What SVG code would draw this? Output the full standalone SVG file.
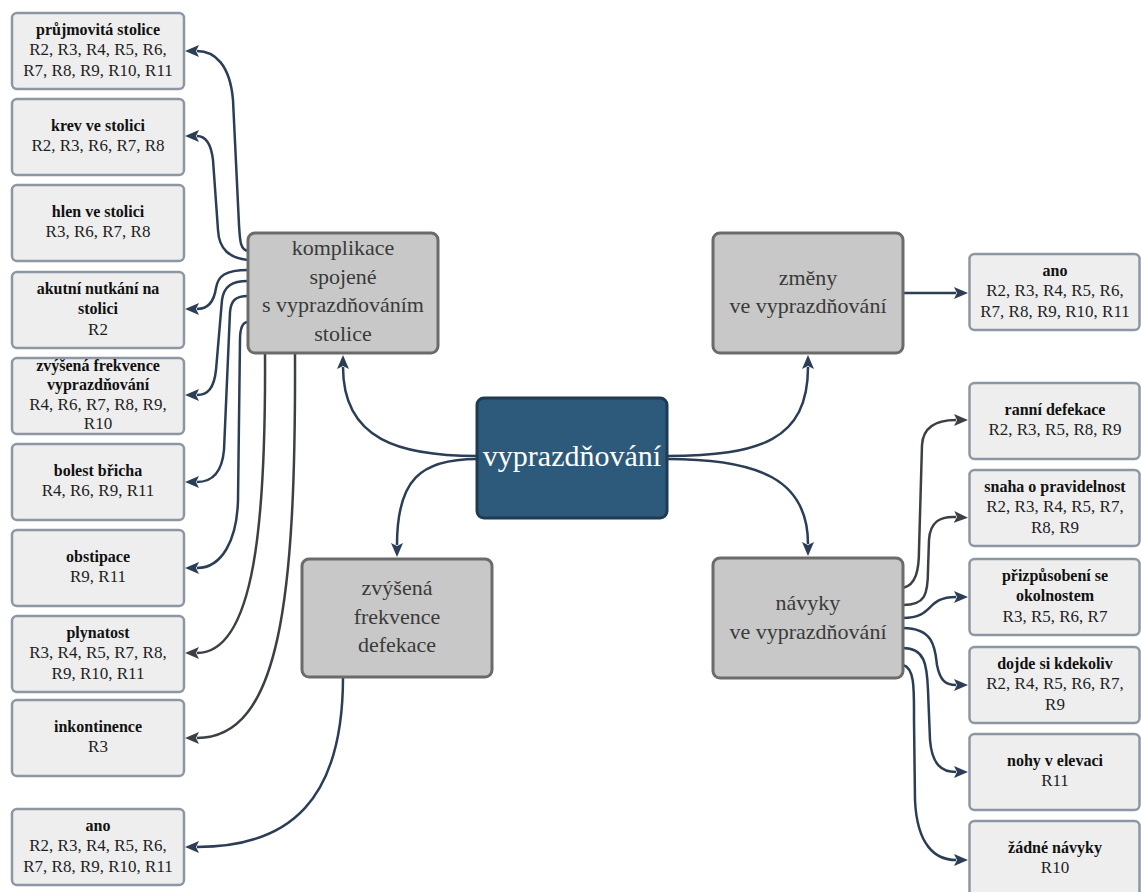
<svg xmlns="http://www.w3.org/2000/svg" width="1141" height="892" viewBox="0 0 1141 892">
  <style>
    text { font-family: 'Liberation Serif', 'Times New Roman', Times, 'Noto Serif', serif; }
    .leaf rect { fill: #eeeeee; stroke: #8d97a3; stroke-width: 2.5; }
    .hub rect { fill: #c8c8c8; stroke: #6b6b6b; stroke-width: 3; }
    .root rect { fill: #2d5a7b; stroke: #1f3a52; stroke-width: 3; }
    .hub text { font-size: 22px; fill: #3a3a3a; text-anchor: middle; }
    .root text { font-size: 30px; fill: #ffffff; text-anchor: middle; }
    .leaf text { font-size: 17px; fill: #1e1e1e; text-anchor: middle; }
    .leaf .b { font-weight: bold; font-size: 16px; fill: #111111; }
    .edge { fill: none; stroke: #2c3e55; stroke-width: 2.5; marker-end: url(#ah); }
    .edge.g { stroke: #3c4046; marker-end: url(#ahg); }
  </style>
  <defs>
    <marker id="ah" viewBox="0 0 14 14" markerWidth="14" markerHeight="14" refX="2" refY="7" orient="auto" markerUnits="userSpaceOnUse">
      <path d="M0,1 L14,7 L0,13 L3,7 Z" fill="#2c3e55"/>
    </marker>
    <marker id="ahg" viewBox="0 0 14 14" markerWidth="14" markerHeight="14" refX="2" refY="7" orient="auto" markerUnits="userSpaceOnUse">
      <path d="M0,1 L14,7 L0,13 L3,7 Z" fill="#3c4046"/>
    </marker>
  </defs>

  <rect width="1141" height="892" fill="#ffffff"/>

  <!-- connectors -->
  <g id="connectors">
    <!-- root to hubs -->
    <path class="edge" d="M477,456 C400,456 343,440 343,367"/>
    <path class="edge" d="M477,459 C420,459 397,480 397,545"/>
    <path class="edge" d="M667,456 C760,456 808,440 808,367"/>
    <path class="edge" d="M667,459 C760,459 808,480 808,544"/>
    <!-- změny -> ano -->
    <path class="edge" d="M903,293 L956,293"/>
    <!-- zvýšená frekvence defekace -> ano -->
    <path class="edge" d="M343,677 C343,800 290,847 197,847"/>
    <!-- komplikace -> left leaves -->
    <path class="edge" d="M248,251 C240,250 240,240 239,225 L233,100 C230,65 215,51 197,51"/>
    <path class="edge" d="M248,260 C230,258 219,250 218,230 L213,160 C211,143 205,136 197,136"/>
    <path class="edge" d="M248,270 C225,270 218,276 216,288 C214,302 208,309 197,309"/>
    <path class="edge" d="M248,281 C232,281 224,286 222,300 L216,370 C214,388 208,395 197,395"/>
    <path class="edge" d="M248,296 C236,296 231,300 230,312 L224,450 C222,472 212,482 197,482"/>
    <path class="edge" d="M248,322 C242,322 240,330 240,340 L238,500 C237,540 222,568 197,568"/>
    <path class="edge g" d="M265,353 C266,520 255,653 197,653"/>
    <path class="edge g" d="M295,353 C296,600 280,738 197,738"/>
    <!-- návyky -> right leaves -->
    <path class="edge g" d="M903,588 C916,585 919,570 919,550 L922,445 C923,428 935,420 956,420"/>
    <path class="edge g" d="M903,605 C925,605 928,595 928,570 L929,540 C930,522 940,516 956,517"/>
    <path class="edge" d="M903,618 C935,618 925,597 956,597"/>
    <path class="edge" d="M903,628 C935,628 935,650 937,665 C940,680 945,685 956,685"/>
    <path class="edge" d="M903,648 C925,648 927,665 928,690 L930,740 C932,765 942,772 956,772"/>
    <path class="edge" d="M903,665 C915,668 914,690 914,720 L915,800 C917,845 935,860 956,860"/>
  </g>

  <!-- root -->
  <g id="root" class="root">
    <rect x="477" y="398" width="190" height="120" rx="7"/>
    <text x="572" y="466">vyprazdňování</text>
  </g>

  <!-- hubs -->
  <g id="komplikace" class="hub">
    <rect x="248" y="233" width="190" height="120" rx="7"/>
    <text x="343"><tspan x="343" y="255">komplikace</tspan><tspan x="343" y="283.5">spojené</tspan><tspan x="343" y="312">s vyprazdňováním</tspan><tspan x="343" y="340.5">stolice</tspan></text>
  </g>
  <g id="zvysena-frekvence-defekace" class="hub">
    <rect x="302" y="559" width="190" height="118" rx="7"/>
    <text x="397"><tspan x="397" y="595">zvýšená</tspan><tspan x="397" y="623.5">frekvence</tspan><tspan x="397" y="652">defekace</tspan></text>
  </g>
  <g id="zmeny" class="hub">
    <rect x="713" y="233" width="190" height="120" rx="7"/>
    <text x="808"><tspan x="808" y="285">změny</tspan><tspan x="808" y="313">ve vyprazdňování</tspan></text>
  </g>
  <g id="navyky" class="hub">
    <rect x="713" y="558" width="190" height="120" rx="7"/>
    <text x="808"><tspan x="808" y="610">návyky</tspan><tspan x="808" y="638.5">ve vyprazdňování</tspan></text>
  </g>

  <!-- left leaves -->
  <g id="prujmovita-stolice" class="leaf">
    <rect x="12" y="13" width="172" height="76" rx="5"/>
    <text><tspan class="b" x="98" y="34.5">průjmovitá stolice</tspan><tspan x="98" y="55">R2, R3, R4, R5, R6,</tspan><tspan x="98" y="75.5">R7, R8, R9, R10, R11</tspan></text>
  </g>
  <g id="krev-ve-stolici" class="leaf">
    <rect x="12" y="99" width="172" height="76" rx="5"/>
    <text><tspan class="b" x="98" y="130.75">krev ve stolici</tspan><tspan x="98" y="151.25">R2, R3, R6, R7, R8</tspan></text>
  </g>
  <g id="hlen-ve-stolici" class="leaf">
    <rect x="12" y="185" width="172" height="76" rx="5"/>
    <text><tspan class="b" x="98" y="216.75">hlen ve stolici</tspan><tspan x="98" y="237.25">R3, R6, R7, R8</tspan></text>
  </g>
  <g id="akutni-nutkani" class="leaf">
    <rect x="12" y="272" width="172" height="76" rx="5"/>
    <text><tspan class="b" x="98" y="293.5">akutní nutkání na</tspan><tspan class="b" x="98" y="314">stolici</tspan><tspan x="98" y="334.5">R2</tspan></text>
  </g>
  <g id="zvysena-frekvence-vyprazdnovani" class="leaf">
    <rect x="12" y="358" width="172" height="76" rx="5"/>
    <text><tspan class="b" x="98" y="370.75">zvýšená frekvence</tspan><tspan class="b" x="98" y="390.25">vyprazdňování</tspan><tspan x="98" y="409.75">R4, R6, R7, R8, R9,</tspan><tspan x="98" y="429.25">R10</tspan></text>
  </g>
  <g id="bolest-bricha" class="leaf">
    <rect x="12" y="444" width="172" height="76" rx="5"/>
    <text><tspan class="b" x="98" y="475.75">bolest břicha</tspan><tspan x="98" y="496.25">R4, R6, R9, R11</tspan></text>
  </g>
  <g id="obstipace" class="leaf">
    <rect x="12" y="530" width="172" height="76" rx="5"/>
    <text><tspan class="b" x="98" y="561.75">obstipace</tspan><tspan x="98" y="582.25">R9, R11</tspan></text>
  </g>
  <g id="plynatost" class="leaf">
    <rect x="12" y="616" width="172" height="76" rx="5"/>
    <text><tspan class="b" x="98" y="637.5">plynatost</tspan><tspan x="98" y="658">R3, R4, R5, R7, R8,</tspan><tspan x="98" y="678.5">R9, R10, R11</tspan></text>
  </g>
  <g id="inkontinence" class="leaf">
    <rect x="12" y="700" width="172" height="76" rx="5"/>
    <text><tspan class="b" x="98" y="731.75">inkontinence</tspan><tspan x="98" y="752.25">R3</tspan></text>
  </g>
  <g id="ano-frekvence" class="leaf">
    <rect x="12" y="809" width="172" height="76" rx="5"/>
    <text><tspan class="b" x="98" y="830.5">ano</tspan><tspan x="98" y="851">R2, R3, R4, R5, R6,</tspan><tspan x="98" y="871.5">R7, R8, R9, R10, R11</tspan></text>
  </g>

  <!-- right leaves -->
  <g id="ano-zmeny" class="leaf">
    <rect x="969.5" y="254" width="170" height="76" rx="5"/>
    <text><tspan class="b" x="1055" y="275.5">ano</tspan><tspan x="1055" y="296">R2, R3, R4, R5, R6,</tspan><tspan x="1055" y="316.5">R7, R8, R9, R10, R11</tspan></text>
  </g>
  <g id="ranni-defekace" class="leaf">
    <rect x="969.5" y="383" width="170" height="76" rx="5"/>
    <text><tspan class="b" x="1055" y="414.75">ranní defekace</tspan><tspan x="1055" y="435.25">R2, R3, R5, R8, R9</tspan></text>
  </g>
  <g id="snaha-o-pravidelnost" class="leaf">
    <rect x="969.5" y="470" width="170" height="76" rx="5"/>
    <text><tspan class="b" x="1055" y="491.5">snaha o pravidelnost</tspan><tspan x="1055" y="512">R2, R3, R4, R5, R7,</tspan><tspan x="1055" y="532.5">R8, R9</tspan></text>
  </g>
  <g id="prizpusobeni" class="leaf">
    <rect x="969.5" y="559" width="170" height="76" rx="5"/>
    <text><tspan class="b" x="1055" y="580.5">přizpůsobení se</tspan><tspan class="b" x="1055" y="601">okolnostem</tspan><tspan x="1055" y="621.5">R3, R5, R6, R7</tspan></text>
  </g>
  <g id="dojde-si-kdekoliv" class="leaf">
    <rect x="969.5" y="647" width="170" height="76" rx="5"/>
    <text><tspan class="b" x="1055" y="668.5">dojde si kdekoliv</tspan><tspan x="1055" y="689">R2, R4, R5, R6, R7,</tspan><tspan x="1055" y="709.5">R9</tspan></text>
  </g>
  <g id="nohy-v-elevaci" class="leaf">
    <rect x="969.5" y="734" width="170" height="76" rx="5"/>
    <text><tspan class="b" x="1055" y="765.75">nohy v elevaci</tspan><tspan x="1055" y="786.25">R11</tspan></text>
  </g>
  <g id="zadne-navyky" class="leaf">
    <rect x="969.5" y="821" width="170" height="76" rx="5"/>
    <text><tspan class="b" x="1055" y="852.75">žádné návyky</tspan><tspan x="1055" y="873.25">R10</tspan></text>
  </g>
</svg>
